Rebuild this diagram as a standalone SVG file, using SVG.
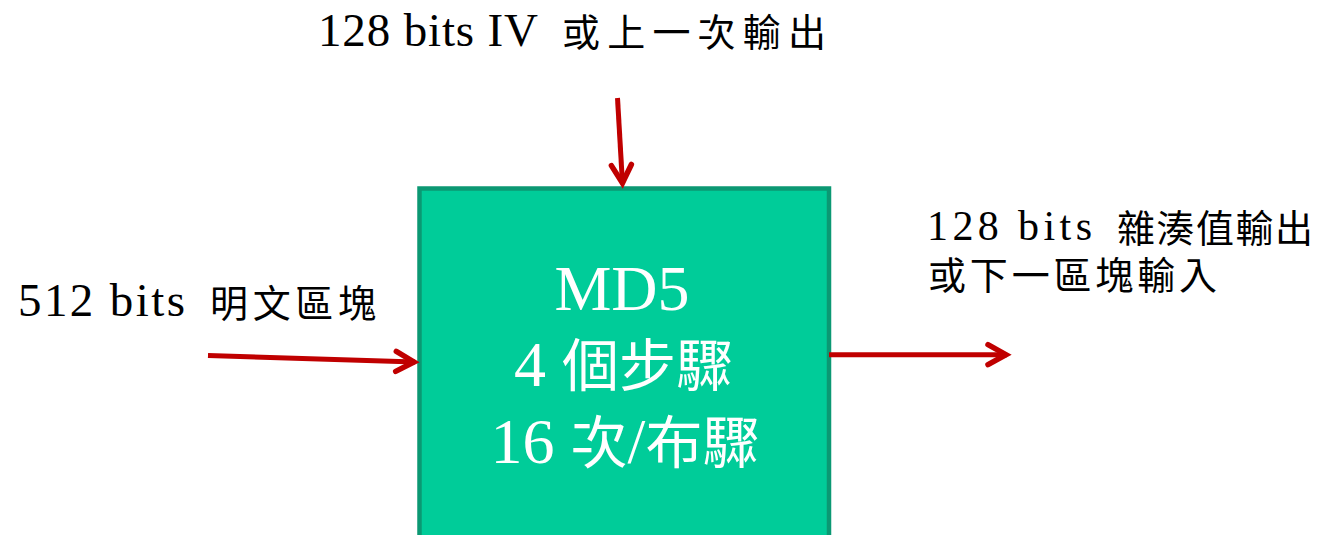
<svg xmlns="http://www.w3.org/2000/svg" width="1327" height="535" viewBox="0 0 1327 535">
<style>
.lbl{font-family:"Liberation Serif",serif;font-size:47px;fill:#000}
.lbr{font-family:"Liberation Serif",serif;font-size:42px;fill:#000}
.cjk{font-family:"Noto Sans CJK TC","Liberation Serif",serif;font-size:38px;fill:#000}
.box{fill:#00CC99;stroke:#0B9873;stroke-width:4.5}
.bt{font-family:"Liberation Serif","Noto Sans CJK TC",serif;font-size:64px;fill:#fff;text-anchor:middle}
.bc{font-family:"Noto Sans CJK TC","Liberation Serif",serif;font-size:57px}
.con{fill:none;stroke:#C00000;stroke-width:5}
</style>
<defs>
<marker id="ah" markerUnits="userSpaceOnUse" markerWidth="40" markerHeight="40" viewBox="-30 -20 40 40" refX="0" refY="0" orient="auto">
<path d="M-19,-10 L-1,0 L-19,10" fill="none" stroke="#C00000" stroke-width="5.5" stroke-linecap="round" stroke-linejoin="miter"/>
</marker>
</defs>
<g id="node-md5">
<rect class="box" x="419.5" y="188.5" width="409.5" height="400"/>
<text class="bt" x="622" y="310">MD5</text>
<text class="bt" x="623.5" y="386">4 <tspan class="bc">個步驟</tspan></text>
<text class="bt" x="625" y="463">16 <tspan class="bc">次</tspan>/<tspan class="bc">布驟</tspan></text>
</g>
<g id="label-top">
<text class="lbl" x="318" y="46" textLength="220" lengthAdjust="spacing">128 bits IV</text>
<text class="cjk" x="562" y="46" textLength="264" lengthAdjust="spacing">或上一次輸出</text>
</g>
<g id="label-left">
<text class="lbl" x="18" y="316" textLength="167" lengthAdjust="spacing">512 bits</text>
<text class="cjk" x="210" y="317" textLength="166" lengthAdjust="spacing">明文區塊</text>
</g>
<g id="label-right">
<text class="lbr" x="927" y="240" textLength="165" lengthAdjust="spacing">128 bits</text>
<text class="cjk" x="1117" y="242" textLength="196" lengthAdjust="spacing">雜湊值輸出</text>
<text class="cjk" x="928" y="289" textLength="289" lengthAdjust="spacing">或下一區塊輸入</text>
</g>
<g id="connectors">
<path class="con" d="M617.5,98 L622.5,184" marker-end="url(#ah)"/>
<path class="con" d="M208,355.5 L415,362" marker-end="url(#ah)"/>
<path class="con" d="M829,354.7 L1007,354.7" marker-end="url(#ah)"/>
</g>
</svg>
